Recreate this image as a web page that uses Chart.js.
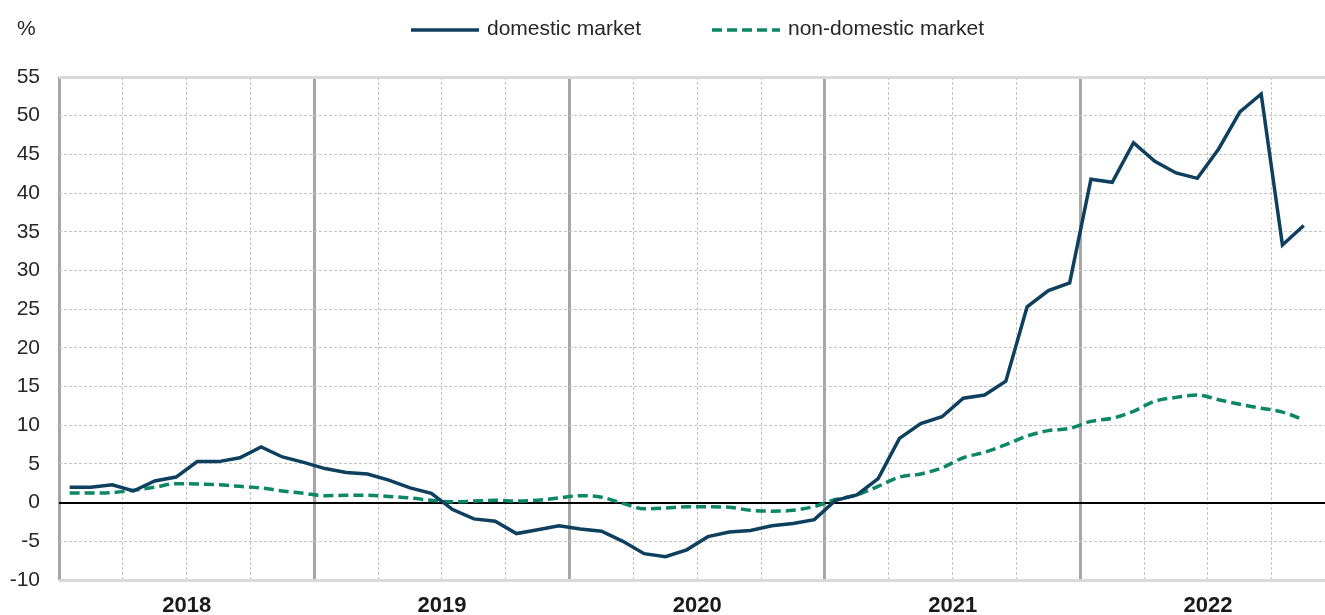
<!DOCTYPE html>
<html>
<head>
<meta charset="utf-8">
<script src="https://cdn.jsdelivr.net/npm/chart.js@4.4.1/dist/chart.umd.min.js"></script>
<style>
  html, body { margin: 0; padding: 0; background: #fff; overflow: hidden; }
  #wrap { width: 1325px; height: 615px; position: relative; }
</style>
</head>
<body>
<div id="wrap"><canvas id="chart"></canvas></div>
<script>
// monthly, Jan 2018 - Nov 2022
const years = ["2018", "2019", "2020", "2021", "2022"];
const monthNames = ["Jan", "Feb", "Mar", "Apr", "May", "Jun", "Jul", "Aug", "Sep", "Oct", "Nov", "Dec"];
const months = [];
years.forEach(y => monthNames.forEach(m => months.push(m + " " + y)));
months.length = 59;

const domestic = [
  2.0, 2.0, 2.3, 1.5, 2.8, 3.3, 5.3, 5.3, 5.8, 7.2, 5.9, 5.2,
  4.4, 3.9, 3.7, 2.9, 1.9, 1.2, -0.9, -2.1, -2.4, -4.0, -3.5, -3.0,
  -3.4, -3.7, -5.0, -6.6, -7.0, -6.1, -4.4, -3.8, -3.6, -3.0, -2.7, -2.2,
  0.3, 1.0, 3.1, 8.3, 10.2, 11.1, 13.5, 13.9, 15.7, 25.3, 27.4, 28.4,
  41.8, 41.4, 46.5, 44.1, 42.6, 41.9, 45.7, 50.5, 52.8, 33.3, 35.8
];
const nonDomestic = [
  1.25, 1.25, 1.3, 1.6, 2.0, 2.45, 2.4, 2.3, 2.1, 1.9, 1.5, 1.2,
  0.9, 0.95, 0.95, 0.8, 0.6, 0.3, 0.1, 0.2, 0.3, 0.2, 0.3, 0.6,
  0.9, 0.7, -0.1, -0.8, -0.7, -0.55, -0.55, -0.6, -1.0, -1.1, -1.0, -0.5,
  0.4, 1.0, 2.1, 3.3, 3.7, 4.5, 5.8, 6.5, 7.5, 8.6, 9.3, 9.6,
  10.5, 10.9, 11.8, 13.1, 13.6, 13.9, 13.3, 12.7, 12.2, 11.7, 10.7
];
const yTicks = [-10, -5, 0, 5, 10, 15, 20, 25, 30, 35, 40, 45, 50, 55];

const FONT = "'Liberation Sans Narrow', 'Arial Narrow', 'Liberation Sans', Arial, sans-serif";

// each month sits in the middle of its slot on the time axis
const toPoints = vals => vals.map((v, i) => ({ x: i + 0.5, y: v, label: months[i] }));

const legendPlugin = {
  id: "topLegend",
  afterDraw(chart) {
    const ctx = chart.ctx;
    ctx.save();
    ctx.font = "21px " + FONT;
    ctx.fillStyle = "#262626";
    ctx.textBaseline = "middle";
    ctx.fillText("%", 17, 29);
    const starts = [411, 712];
    chart.data.datasets.forEach((ds, i) => {
      const x = starts[i];
      ctx.beginPath();
      ctx.strokeStyle = ds.borderColor;
      ctx.lineWidth = ds.borderWidth;
      ctx.setLineDash(ds.borderDash || []);
      ctx.moveTo(x, 30);
      ctx.lineTo(x + 68, 30);
      ctx.stroke();
      ctx.setLineDash([]);
      ctx.fillText(ds.label, x + 76, 29);
    });
    ctx.restore();
  }
};

const config = {
  type: "line",
  data: {
    datasets: [
      {
        label: "domestic market",
        data: toPoints(domestic),
        borderColor: "#0e3f5f",
        borderWidth: 3.5,
        pointRadius: 0,
        tension: 0,
        fill: false
      },
      {
        label: "non-domestic market",
        data: toPoints(nonDomestic),
        borderColor: "#0b8765",
        borderWidth: 3.5,
        borderDash: [10, 5],
        pointRadius: 0,
        tension: 0.4,
        cubicInterpolationMode: "monotone",
        fill: false
      }
    ]
  },
  options: {
    responsive: true,
    maintainAspectRatio: false,
    animation: false,
    devicePixelRatio: 1,
    layout: { padding: { top: 77, left: 0, right: 0, bottom: 0 } },
    plugins: { legend: { display: false }, tooltip: { enabled: false } },
    scales: {
      x: {
        type: "linear",
        min: 0,
        max: 59.5,
        afterBuildTicks: scale => {
          const t = [];
          for (let v = 0; v < 59; v += 3) t.push({ value: v });
          scale.ticks = t;
        },
        afterFit: scale => { scale.height = 35; },
        ticks: {
          autoSkip: false,
          maxRotation: 0,
          padding: 13,
          color: "#1a1a1a",
          font: { family: FONT, size: 22, weight: "bold" },
          callback: v => (v % 12 === 6 ? years[(v - 6) / 12] : "")
        },
        grid: {
          drawTicks: false,
          color: c => (c.tick && c.tick.value % 12 === 0 ? "#a6a6a6" : "#c4c4c4"),
          lineWidth: c => (c.tick && c.tick.value % 12 === 0 ? 3 : 1)
        },
        border: {
          display: false,
          dash: c => (c.tick && c.tick.value % 12 === 0 ? [] : [3, 2])
        }
      },
      y: {
        min: -10,
        max: 55,
        afterBuildTicks: scale => { scale.ticks = yTicks.map(v => ({ value: v })); },
        afterFit: scale => { scale.width = 59; },
        ticks: {
          padding: 19,
          color: "#262626",
          font: { family: FONT, size: 21 }
        },
        grid: {
          drawTicks: false,
          color: c => {
            if (!c.tick) return "#c4c4c4";
            if (c.tick.value === 0) return "#000000";
            if (c.tick.value === 55 || c.tick.value === -10) return "#d9d9d9";
            return "#c4c4c4";
          },
          lineWidth: c => {
            if (!c.tick) return 1;
            if (c.tick.value === 0) return 2;
            if (c.tick.value === 55 || c.tick.value === -10) return 3;
            return 1;
          }
        },
        border: {
          display: false,
          dash: c => (c.tick && [0, 55, -10].includes(c.tick.value) ? [] : [3, 2])
        }
      }
    }
  },
  plugins: [legendPlugin]
};

var myChart = new Chart(document.getElementById("chart"), config);
</script>
</body>
</html>
